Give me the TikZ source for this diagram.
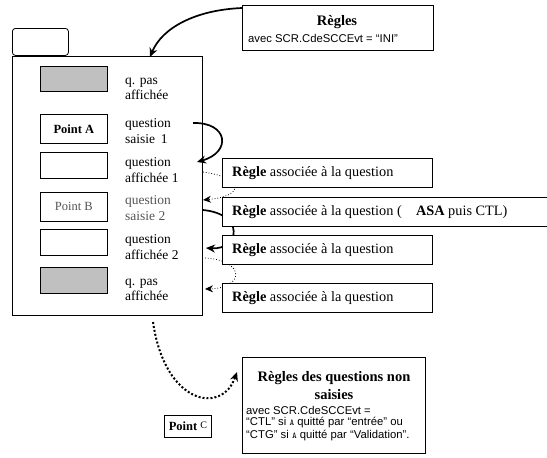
\documentclass[tikz,border=0pt]{standalone}
\usepackage{fontspec}
\setmainfont{Liberation Serif}
\newfontfamily\arialf{Liberation Sans}
\usetikzlibrary{arrows.meta}
\definecolor{qgray}{HTML}{C0C0C0}
\definecolor{faint}{HTML}{555555}
\begin{document}
\begin{tikzpicture}[x=1pt,y=-1pt,
  box/.style={draw, line width=0.8pt, fill=white, inner sep=0pt, anchor=north west},
  qlbl/.style={anchor=west, align=left, font=\fontsize{13.5}{15.5}\selectfont, inner sep=0pt},
  rtxt/.style={anchor=west, font=\fontsize{14.3}{16}\selectfont, inner sep=0pt},
  small/.style={anchor=west, font=\arialf\fontsize{11.3}{12}\selectfont, inner sep=0pt},
  thickarr/.style={line width=1.7pt, -{Stealth[length=9pt,width=8pt]}},
  dotarr/.style={line width=0.8pt, dotted, -{Stealth[length=8pt,width=7pt]}},
]
\useasboundingbox (0,0) rectangle (547,458);

% main container
\node[box, rounded corners=3pt, minimum width=56pt, minimum height=27pt] (tab) at (12,28) {};
\node[box, minimum width=190pt, minimum height=259pt] (main) at (12,56) {};

% inner boxes
\node[box, fill=qgray, minimum width=67pt, minimum height=25pt] (q1) at (40,66) {};
\node[box, minimum width=67pt, minimum height=29pt, font=\bfseries\fontsize{12.5}{14}\selectfont] (qa) at (40,114) {Point A};
\node[box, minimum width=67pt, minimum height=26pt] (q3) at (40,152) {};
\node[box, minimum width=67pt, minimum height=29pt, font=\fontsize{12.5}{14}\selectfont, text=faint] (qb) at (40,192) {Point B};
\node[box, minimum width=67pt, minimum height=26pt] (q5) at (40,229) {};
\node[box, fill=qgray, minimum width=67pt, minimum height=26pt] (q6) at (40,267) {};

% labels
\node[qlbl] (l1) at (125,89) {q. pas\\affichée};
\node[qlbl] (l2) at (125,131) {question\\saisie\,\ 1};
\node[qlbl] (l3) at (125,170) {question\\affichée 1};
\node[qlbl, text=faint] (l4) at (125,208) {question\\saisie 2};
\node[qlbl] (l5) at (125,247) {question\\affichée 2};
\node[qlbl] (l6) at (125,290) {q. pas\\affichée};

% connector end points
\coordinate (s1) at (193,123);
\coordinate (t1) at (197,162);
\coordinate (s2) at (203,172);
\coordinate (t2) at (203,200);
\coordinate (s3) at (203,210);
\coordinate (t3) at (206,248);
\coordinate (s4) at (205,258);
\coordinate (t4) at (205,289);
\coordinate (topin) at (150,57);
\coordinate (botout) at (153,322);
\coordinate (botin) at (237,372);

% curves (drawn below the rule boxes)
\draw[thickarr] (s1) .. controls (228,122) and (232,152) .. (t1);
\draw[dotarr] (s2) .. controls (245,178) and (245,196) .. (t2);
\draw[thickarr] (s3) .. controls (245,214) and (240,250) .. (t3);
\draw[dotarr] (s4) .. controls (245,260) and (245,288) .. (t4);

% rule boxes
\node[box, minimum width=210pt, minimum height=29pt] (r1) at (222,158) {};
\node[box, minimum width=340pt, minimum height=29pt] (r2) at (222,197) {};
\node[box, minimum width=210pt, minimum height=29pt] (r3) at (222,235) {};
\node[box, minimum width=210pt, minimum height=29pt] (r4) at (222,283) {};
\node[rtxt] at ([xshift=10pt]r1.west) {\textbf{Règle} associée à la question};
\node[rtxt] at ([xshift=10pt]r2.west) {\textbf{Règle} associée à la question (\quad\textbf{ASA} puis CTL)};
\node[rtxt] at ([xshift=10pt]r3.west) {\textbf{Règle} associée à la question};
\node[rtxt] at ([xshift=10pt]r4.west) {\textbf{Règle} associée à la question};

% top rule box
\node[box, minimum width=191pt, minimum height=45pt] (top) at (242,5) {};
\node[font=\bfseries\fontsize{14.5}{16}\selectfont, inner sep=0pt] at (337,22) {Règles};
\node[small] at (248,38) {avec SCR.CdeSCCEvt = “INI”};
\draw[thickarr] (top.north west |- 0,8) .. controls (195,10) and (162,28) .. (topin);

% bottom
\node[box, minimum width=47pt, minimum height=22pt] (pc) at (164,415) {};
\node[inner sep=0pt] at (pc.center) {\bfseries\fontsize{12.5}{14}\selectfont Point \raisebox{2pt}{\mdseries\fontsize{10}{11}\selectfont C}};
\node[box, minimum width=183pt, minimum height=96pt] (bot) at (242,357) {};
\node[font=\bfseries\fontsize{14.5}{18}\selectfont, align=center, inner sep=0pt] at (334,386) {Règles des questions non\\saisies};
\node[small] at (246,410) {avec SCR.CdeSCCEvt =};
\node[small] at (246,423) {“CTL” si {\ttfamily\fontsize{9}{9}\selectfont A} quitté par “entrée” ou};
\node[small] at (246,436) {“CTG” si {\ttfamily\fontsize{9}{9}\selectfont A} quitté par “Validation”.};
\draw[line width=2pt, dotted, -{Stealth[length=9pt,width=8pt]}] (botout) .. controls (165,405) and (222,415) .. (botin);
\end{tikzpicture}
\end{document}
